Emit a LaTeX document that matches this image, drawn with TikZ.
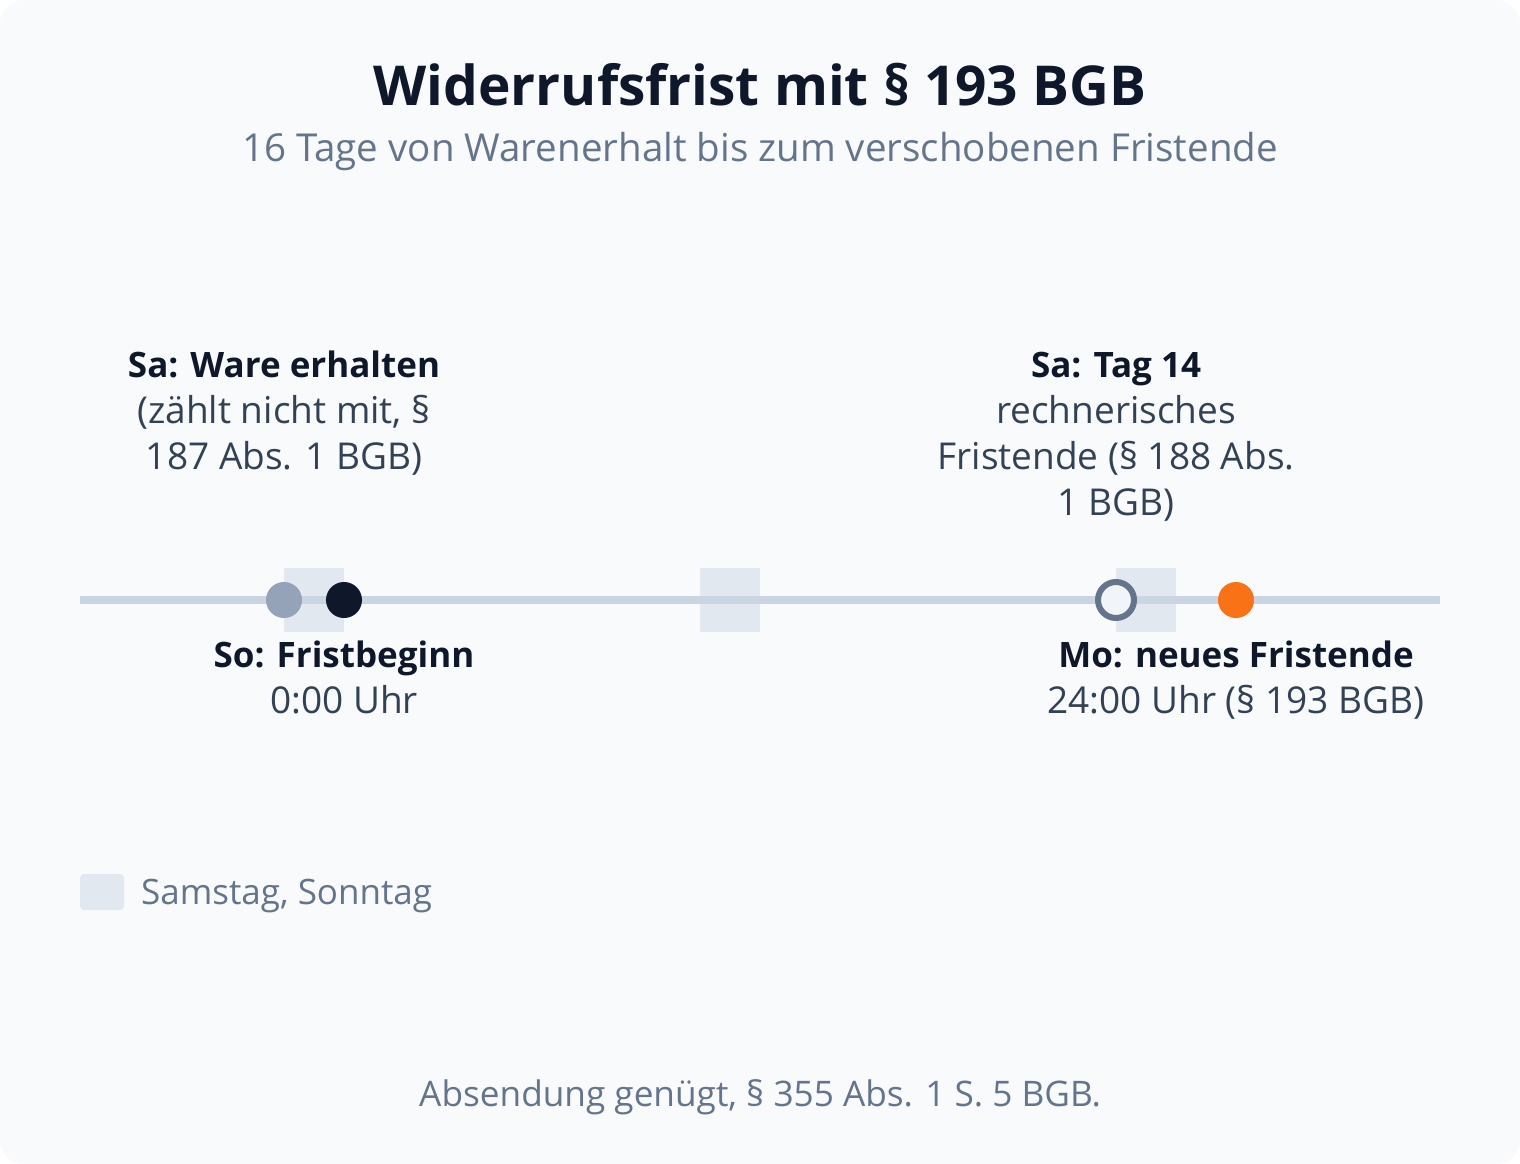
\documentclass[tikz,border=0pt]{standalone}
\usepackage{fontspec}
\setmainfont{Open Sans}
\usetikzlibrary{positioning}
\definecolor{paper}{HTML}{F8FAFC}
\definecolor{ink}{HTML}{0F172A}
\definecolor{slate}{HTML}{64748B}
\definecolor{body}{HTML}{334155}
\definecolor{wkend}{HTML}{E2E8F0}
\definecolor{track}{HTML}{CBD5E1}
\definecolor{muted}{HTML}{94A3B8}
\definecolor{hollow}{HTML}{F1F5F9}
\definecolor{accent}{HTML}{F97316}
\newcommand\headline[1]{{\fontsize{35}{46}\selectfont\bfseries\color{ink}#1}}
\tikzset{
  daydot/.style={circle, inner sep=0pt, minimum size=36pt},
  weekend/.style={fill=wkend},
  lbl/.style={align=center, font=\fontsize{37}{46}\selectfont, text=body, inner sep=0pt},
}
\begin{document}
\begin{tikzpicture}[x=1pt,y=-1pt]
    \useasboundingbox (0,0) rectangle (1520,1164);
    \fill[white] (0,0) rectangle (1520,1164);
    \fill[paper, rounded corners=24pt] (0,0) rectangle (1520,1164);
%    title
    \node[anchor=base, font=\fontsize{55}{60}\selectfont\bfseries, text=ink] (title) at (760,105) {Widerrufsfrist mit § 193 BGB};
    \node[anchor=base, font=\fontsize{38.5}{40}\selectfont, text=slate] (sub) at (760,161) {16 Tage von Warenerhalt bis zum verschobenen Fristende};
%    weekends
    \fill[weekend] (284,568) rectangle (344,632);
    \fill[weekend] (700,568) rectangle (760,632);
    \fill[weekend] (1116,568) rectangle (1176,632);
%    timeline
    \coordinate (t0) at (80,600);
    \coordinate (t1) at (1440,600);
    \draw[track, line width=8pt] (t0) -- (t1);
    \node[daydot, fill=muted] (recv) at (284,600) {};
    \node[daydot, fill=ink] (start) at (344,600) {};
    \node[daydot, fill=hollow, draw=slate, line width=6pt] (day14) at (1116,600) {};
    \node[daydot, fill=accent] (end) at (1236,600) {};
%    labels
    \node[lbl, anchor=base] (l1) at (284,469) {\headline{Sa: Ware erhalten}\\(zählt nicht mit, §\\187 Abs. 1 BGB)};
    \node[lbl, anchor=base] (l2) at (1116,515) {\headline{Sa: Tag 14}\\rechnerisches\\Fristende (§ 188 Abs.\\1 BGB)};
    \node[lbl, anchor=base] (l3) at (344,713) {\headline{So: Fristbeginn}\\0:00 Uhr};
    \node[lbl, anchor=base] (l4) at (1236,713) {\headline{Mo: neues Fristende}\\24:00 Uhr (§ 193 BGB)};
%    legend
    \fill[weekend, rounded corners=4pt] (80,874) rectangle (124,910);
    \node[anchor=base west, inner sep=0pt, font=\fontsize{35}{40}\selectfont, text=slate] (leg) at (141,904) {Samstag, Sonntag};
    \node[anchor=base, font=\fontsize{35.2}{40}\selectfont, text=slate] (foot) at (760,1106) {Absendung genügt, § 355 Abs. 1 S. 5 BGB.};
\end{tikzpicture}
\end{document}
